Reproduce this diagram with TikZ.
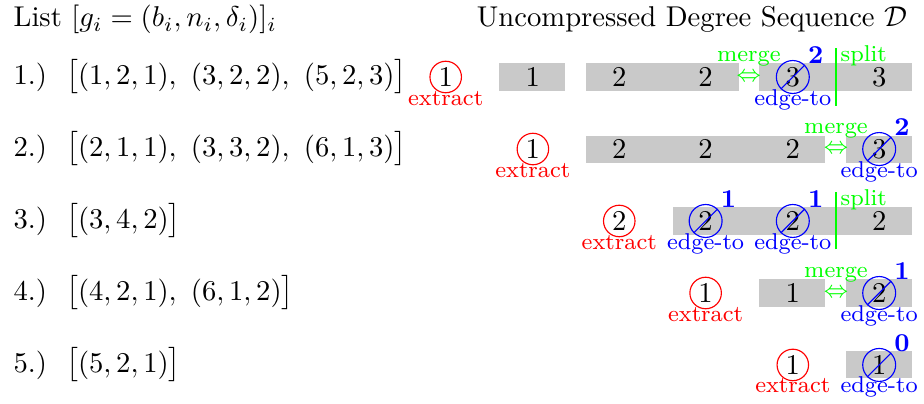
\documentclass[tikz,border=0pt]{standalone}
\usepackage{amsmath}
\usepackage{amssymb}
\usepackage{tikz}

\tikzset{
  cellbox/.style={fill=black!21},
  extnode/.style={circle,draw=red,inner sep=0pt,minimum size=11pt},
  edgenode/.style={circle,draw=blue,inner sep=0pt,minimum size=11.5pt},
  note/.style={font=\footnotesize,inner sep=0pt},
  extlabel/.style={note,red,anchor=base},
  edgelabel/.style={note,blue,anchor=base},
  greenlabel/.style={note,green,anchor=base},
  degcount/.style={font=\small\bfseries,text=blue,inner sep=0pt,anchor=base},
  splitline/.style={green,line width=0.9pt},
  listrow/.style={anchor=west,inner sep=0pt},
}

\begin{document}
\begin{tikzpicture}
\useasboundingbox (0,0) rectangle (11.34,-4.958);

% headers
\node[anchor=base west,inner sep=0pt] (list) at (0.16,-0.331) {List $[g_i=(b_i,n_i,\delta_i)]_i$};
\node[anchor=base east,inner sep=0pt] (seq) at (11.14,-0.331) {Uncompressed Degree Sequence $\mathcal{D}$};

% left: the list in each step
\node[listrow] (l1) at (0.16,-0.945) {1.)\ \ $\big[(1,2,1),\ (3,2,2),\ (5,2,3)\big]$};
\node[listrow] (l2) at (0.16,-1.829) {2.)\ \ $\big[(2,1,1),\ (3,3,2),\ (6,1,3)\big]$};
\node[listrow] (l3) at (0.16,-2.712) {3.)\ \ $\big[(3,4,2)\big]$};
\node[listrow] (l4) at (0.16,-3.596) {4.)\ \ $\big[(4,2,1),\ (6,1,2)\big]$};
\node[listrow] (l5) at (0.16,-4.479) {5.)\ \ $\big[(5,2,1)\big]$};

% step 1
\begin{scope}[yshift=-0.945cm]
\fill[cellbox] (6.13,-0.166) rectangle (6.94,0.166);
\fill[cellbox] (7.19,-0.166) rectangle (9.07,0.166);
\fill[cellbox] (9.32,-0.166) rectangle (11.19,0.166);
\node[extnode] (x1) at (5.47,0) {1};
\node[extlabel] (x1l) at ([yshift=-3.44mm]x1.center) {extract};
\node (r1a) at (6.54,0) {1};
\node (r1b) at (7.60,0) {2};
\node (r1c) at (8.66,0) {2};
\node[note,green] (m1) at (9.19,0) {$\Leftrightarrow$};
\node[greenlabel] (m1l) at ([yshift=1.88mm]m1.center) {merge};
\node[edgenode] (r1d) at (9.73,0) {3};
\draw[blue] (r1d.south west) -- (r1d.north east);
\node[degcount] (r1dc) at ([xshift=2.8mm,yshift=1.65mm]r1d.center) {2};
\node[edgelabel] (r1dl) at ([yshift=-3.44mm]r1d.center) {edge-to};
\node (r1e) at (10.79,0) {3};
\coordinate (s1top) at (10.26,0.35);
\coordinate (s1bot) at (10.26,-0.35);
\draw[splitline] (s1bot) -- (s1top);
\node[greenlabel,anchor=base west] (s1l) at ([xshift=0.5mm,yshift=-1.62mm]s1top) {split};
\end{scope}

% step 2
\begin{scope}[yshift=-1.829cm]
\fill[cellbox] (7.19,-0.166) rectangle (10.13,0.166);
\fill[cellbox] (10.38,-0.166) rectangle (11.19,0.166);
\node[extnode] (x2) at (6.54,0) {1};
\node[extlabel] (x2l) at ([yshift=-3.44mm]x2.center) {extract};
\node (r2a) at (7.60,0) {2};
\node (r2b) at (8.66,0) {2};
\node (r2c) at (9.73,0) {2};
\node[note,green] (m2) at (10.26,0) {$\Leftrightarrow$};
\node[greenlabel] (m2l) at ([yshift=1.88mm]m2.center) {merge};
\node[edgenode] (r2d) at (10.79,0) {3};
\draw[blue] (r2d.south west) -- (r2d.north east);
\node[degcount] (r2dc) at ([xshift=2.8mm,yshift=1.65mm]r2d.center) {2};
\node[edgelabel] (r2dl) at ([yshift=-3.44mm]r2d.center) {edge-to};
\end{scope}

% step 3
\begin{scope}[yshift=-2.712cm]
\fill[cellbox] (8.26,-0.166) rectangle (11.19,0.166);
\node[extnode] (x3) at (7.60,0) {2};
\node[extlabel] (x3l) at ([yshift=-3.44mm]x3.center) {extract};
\node[edgenode] (r3a) at (8.66,0) {2};
\draw[blue] (r3a.south west) -- (r3a.north east);
\node[degcount] (r3ac) at ([xshift=2.8mm,yshift=1.65mm]r3a.center) {1};
\node[edgelabel] (r3al) at ([yshift=-3.44mm]r3a.center) {edge-to};
\node[edgenode] (r3b) at (9.73,0) {2};
\draw[blue] (r3b.south west) -- (r3b.north east);
\node[degcount] (r3bc) at ([xshift=2.8mm,yshift=1.65mm]r3b.center) {1};
\node[edgelabel] (r3bl) at ([yshift=-3.44mm]r3b.center) {edge-to};
\node (r3c) at (10.79,0) {2};
\coordinate (s3top) at (10.26,0.35);
\coordinate (s3bot) at (10.26,-0.35);
\draw[splitline] (s3bot) -- (s3top);
\node[greenlabel,anchor=base west] (s3l) at ([xshift=0.5mm,yshift=-1.62mm]s3top) {split};
\end{scope}

% step 4
\begin{scope}[yshift=-3.596cm]
\fill[cellbox] (9.32,-0.166) rectangle (10.13,0.166);
\fill[cellbox] (10.38,-0.166) rectangle (11.19,0.166);
\node[extnode] (x4) at (8.66,0) {1};
\node[extlabel] (x4l) at ([yshift=-3.44mm]x4.center) {extract};
\node (r4a) at (9.73,0) {1};
\node[note,green] (m4) at (10.26,0) {$\Leftrightarrow$};
\node[greenlabel] (m4l) at ([yshift=1.88mm]m4.center) {merge};
\node[edgenode] (r4b) at (10.79,0) {2};
\draw[blue] (r4b.south west) -- (r4b.north east);
\node[degcount] (r4bc) at ([xshift=2.8mm,yshift=1.65mm]r4b.center) {1};
\node[edgelabel] (r4bl) at ([yshift=-3.44mm]r4b.center) {edge-to};
\end{scope}

% step 5
\begin{scope}[yshift=-4.479cm]
\fill[cellbox] (10.38,-0.166) rectangle (11.19,0.166);
\node[extnode] (x5) at (9.73,0) {1};
\node[extlabel] (x5l) at ([yshift=-3.44mm]x5.center) {extract};
\node[edgenode] (r5a) at (10.79,0) {1};
\draw[blue] (r5a.south west) -- (r5a.north east);
\node[degcount] (r5ac) at ([xshift=2.8mm,yshift=1.65mm]r5a.center) {0};
\node[edgelabel] (r5al) at ([yshift=-3.44mm]r5a.center) {edge-to};
\end{scope}
\end{tikzpicture}
\end{document}
